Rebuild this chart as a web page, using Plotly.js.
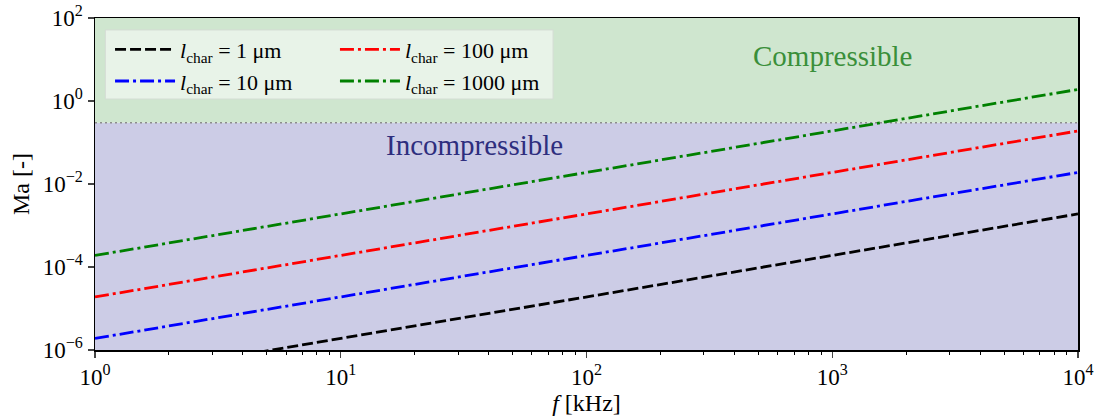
<!DOCTYPE html>
<html><head><meta charset="utf-8">
<script src="https://cdn.plot.ly/plotly-3.0.1.min.js"></script>
<style>html,body{margin:0;padding:0;background:#fff}#chart{width:1098px;height:418px}</style>
</head><body><div id="chart"></div>
<script>
// Data
const freq = [1, 10, 100, 1000, 10000];               // kHz
const ma_1um    = [1.9e-7, 1.9e-6, 1.9e-5, 1.9e-4, 1.9e-3];
const ma_10um   = [1.9e-6, 1.9e-5, 1.9e-4, 1.9e-3, 1.9e-2];
const ma_100um  = [1.9e-5, 1.9e-4, 1.9e-3, 1.9e-2, 1.9e-1];
const ma_1000um = [1.9e-4, 1.9e-3, 1.9e-2, 1.9e-1, 1.9];
const maThreshold = 0.3;
const yMin = 1e-6, yMax = 1e2;
const xTickVals = [1, 10, 100, 1000, 10000];
const xTickText = ['10<sup>0</sup>','10<sup>1</sup>','10<sup>2</sup>','10<sup>3</sup>','10<sup>4</sup>'];
const yTickVals = [1e-6, 1e-4, 1e-2, 1, 1e2];
const yTickText = ['10<sup>−6</sup>','10<sup>−4</sup>','10<sup>−2</sup>','10<sup>0</sup>','10<sup>2</sup>'];

const xMinorTicks = [];
for (let d = 1; d < 10000; d *= 10) for (let m = 2; m <= 9; m++) xMinorTicks.push(m * d);

const xEnds = [freq[0], freq[freq.length-1]];
const serif = 'Liberation Serif, Times New Roman, serif';
const dd = '14px,4px,3px,4px';

const traces = [
  {x: xEnds, y: [yMin, yMin], mode: 'lines', line: {width: 0}, showlegend: false, hoverinfo: 'skip'},
  {x: xEnds, y: [maThreshold, maThreshold], mode: 'lines', line: {width: 0}, fill: 'tonexty', fillcolor: '#ccccE6', showlegend: false, hoverinfo: 'skip'},
  {x: xEnds, y: [yMax, yMax], mode: 'lines', line: {width: 0}, fill: 'tonexty', fillcolor: '#cfe6cf', showlegend: false, hoverinfo: 'skip'},
  {x: xEnds, y: [maThreshold, maThreshold], mode: 'lines', line: {color: '#8c8c8c', width: 1.6, dash: '2px,3px'}, showlegend: false, hoverinfo: 'skip'},
  {x: freq, y: ma_1um, mode: 'lines', name: '<i>l</i><sub>char</sub> = 1 μm', line: {color: 'black', width: 2.8, dash: '11px,4px'}, legend: 'legend'},
  {x: freq, y: ma_10um, mode: 'lines', name: '<i>l</i><sub>char</sub> = 10 μm', line: {color: '#0000ff', width: 2.8, dash: dd}, legend: 'legend'},
  {x: freq, y: ma_100um, mode: 'lines', name: '<i>l</i><sub>char</sub> = 100 μm', line: {color: '#ff0000', width: 2.8, dash: dd}, legend: 'legend2'},
  {x: freq, y: ma_1000um, mode: 'lines', name: '<i>l</i><sub>char</sub> = 1000 μm', line: {color: '#008000', width: 2.8, dash: dd}, legend: 'legend2'}
];

const legendBase = {
  orientation: 'v', yanchor: 'top', xanchor: 'left', y: 0.968,
  bgcolor: 'rgba(0,0,0,0)', borderwidth: 0, traceorder: 'normal', itemwidth: 60,
  font: {family: serif, size: 22}, tracegroupgap: 0
};

const layout = {
  width: 1098, height: 418,
  margin: {l: 95, r: 20, t: 18, b: 68},
  paper_bgcolor: 'white', plot_bgcolor: 'white',
  font: {family: serif, size: 23, color: 'black'},
  xaxis: {
    type: 'log', range: [0, 4], tickvals: xTickVals, ticktext: xTickText,
    ticks: 'outside', ticklen: 6, tickwidth: 1.2, showgrid: false, zeroline: false,
    showline: true, mirror: true, linecolor: 'black', linewidth: 1.5, ticklabeloverflow: 'allow',
    minor: {tickvals: xMinorTicks, ticks: 'outside', ticklen: 3.5, tickwidth: 1, tickcolor: 'black', showgrid: false},
    tickfont: {family: serif, size: 23},
    title: {text: '<i>f</i> [kHz]', font: {family: serif, size: 24}, standoff: 4}
  },
  yaxis: {
    type: 'log', range: [-6, 2], tickvals: yTickVals, ticktext: yTickText,
    ticks: 'outside', ticklen: 6, tickwidth: 1.2, showgrid: false, zeroline: false,
    showline: true, mirror: true, linecolor: 'black', linewidth: 1.5, ticklabeloverflow: 'allow',
    tickfont: {family: serif, size: 23},
    title: {text: 'Ma [-]', font: {family: serif, size: 24}, standoff: 6}
  },
  legend: Object.assign({}, legendBase, {x: 0.0153}),
  legend2: Object.assign({}, legendBase, {x: 0.2441}),
  shapes: [
    {type: 'rect', xref: 'paper', yref: 'paper', x0: 0.0105, x1: 0.466, y0: 0.756, y1: 0.964,
     fillcolor: 'rgba(240,247,240,0.75)', line: {color: '#d4dcd4', width: 1}, layer: 'above'}
  ],
  annotations: [
    {xref: 'paper', yref: 'paper', x: 0.834, y: 0.94, text: 'Compressible', showarrow: false,
     font: {family: serif, size: 29, color: '#3a8f3a'}},
    {xref: 'paper', yref: 'paper', x: 0.386, y: 0.618, text: 'Incompressible', showarrow: false,
     font: {family: serif, size: 29, color: '#2e2e7e'}}
  ]
};

Plotly.newPlot('chart', traces, layout, {displayModeBar: false, staticPlot: true});
</script></body></html>
